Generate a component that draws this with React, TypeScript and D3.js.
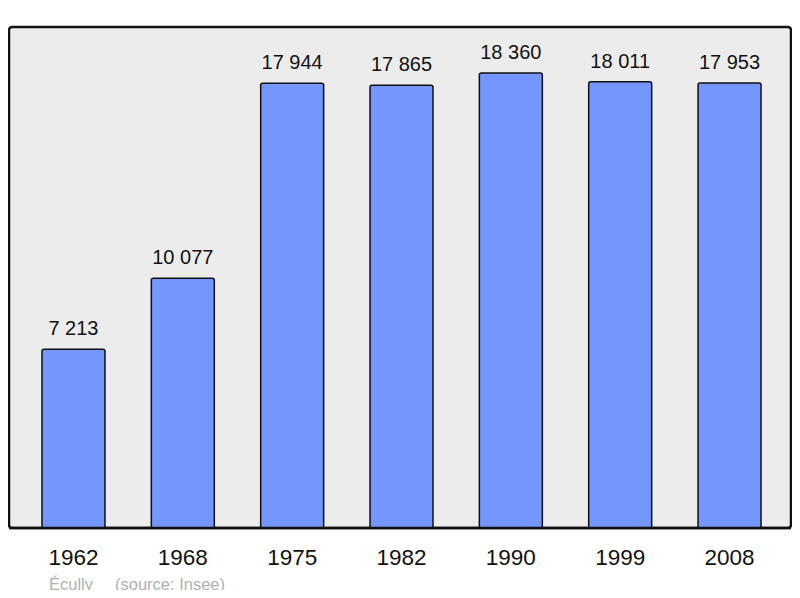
import React, { useRef, useEffect } from "react";
import * as d3 from "d3";

const years = ["1962", "1968", "1975", "1982", "1990", "1999", "2008"];
const population = [7213, 10077, 17944, 17865, 18360, 18011, 17953];
const townName = "Écully";
const sourceNote = "(source: Insee)";

const fmt = (v: number) => d3.format(",")(v).replace(/,/g, " ");

const App = () => {
  const ref = useRef<HTMLDivElement>(null);

  useEffect(() => {
    const width = 800;
    const height = 598;
    const panel = { left: 9, top: 27, right: 791, bottom: 528 };

    const x = d3.scaleBand<string>()
      .domain(years)
      .range([18.8, 784.2])
      .paddingInner(0.424)
      .paddingOuter(0.212);

    const y = d3.scaleLinear()
      .domain([0, 20000])
      .range([panel.bottom, 32.4]);

    const svg = d3.create("svg")
      .attr("width", width)
      .attr("height", height)
      .attr("viewBox", [0, 0, width, height])
      .style("display", "block")
      .style("font-family", "'Liberation Sans', Arial, sans-serif");

    svg.append("rect")
      .attr("width", width)
      .attr("height", height)
      .attr("fill", "#ffffff");

    svg.append("rect")
      .attr("x", panel.left)
      .attr("y", panel.top)
      .attr("width", panel.right - panel.left)
      .attr("height", panel.bottom - panel.top)
      .attr("rx", 3)
      .attr("fill", "#ececec")
      .attr("stroke", "#111")
      .attr("stroke-width", 2.5);

    const data = years.map((yr, i) => ({ yr, v: population[i] }));

    svg.append("g")
      .selectAll("rect")
      .data(data)
      .join("rect")
      .attr("x", d => x(d.yr)!)
      .attr("y", d => y(d.v))
      .attr("width", x.bandwidth())
      .attr("height", d => y(0) - y(d.v))
      .attr("rx", 2)
      .attr("fill", "#7396ff")
      .attr("stroke", "#111")
      .attr("stroke-width", 1.5);

    // bar baseline redrawn over the strokes
    svg.append("line")
      .attr("x1", panel.left)
      .attr("x2", panel.right)
      .attr("y1", panel.bottom)
      .attr("y2", panel.bottom)
      .attr("stroke", "#111")
      .attr("stroke-width", 2.5);

    svg.append("g")
      .selectAll("text")
      .data(data)
      .join("text")
      .attr("x", d => x(d.yr)! + x.bandwidth() / 2)
      .attr("y", d => y(d.v) - 14)
      .attr("text-anchor", "middle")
      .attr("font-size", 20)
      .attr("fill", "#111")
      .text(d => fmt(d.v));

    svg.append("g")
      .selectAll("text")
      .data(years)
      .join("text")
      .attr("x", d => x(d)! + x.bandwidth() / 2)
      .attr("y", 565)
      .attr("text-anchor", "middle")
      .attr("font-size", 22.5)
      .attr("fill", "#111")
      .text(d => d);

    svg.append("text")
      .attr("x", 49)
      .attr("y", 590)
      .attr("font-size", 16.5)
      .attr("fill", "#b0b0b0")
      .text(townName);

    svg.append("text")
      .attr("x", 115)
      .attr("y", 590)
      .attr("font-size", 16.5)
      .attr("fill", "#b0b0b0")
      .text(sourceNote);

    if (ref.current) {
      ref.current.innerHTML = "";
      ref.current.appendChild(svg.node()!);
    }
  }, []);

  return <div ref={ref} style={{ margin: -8 }} />;
};

export default App;
